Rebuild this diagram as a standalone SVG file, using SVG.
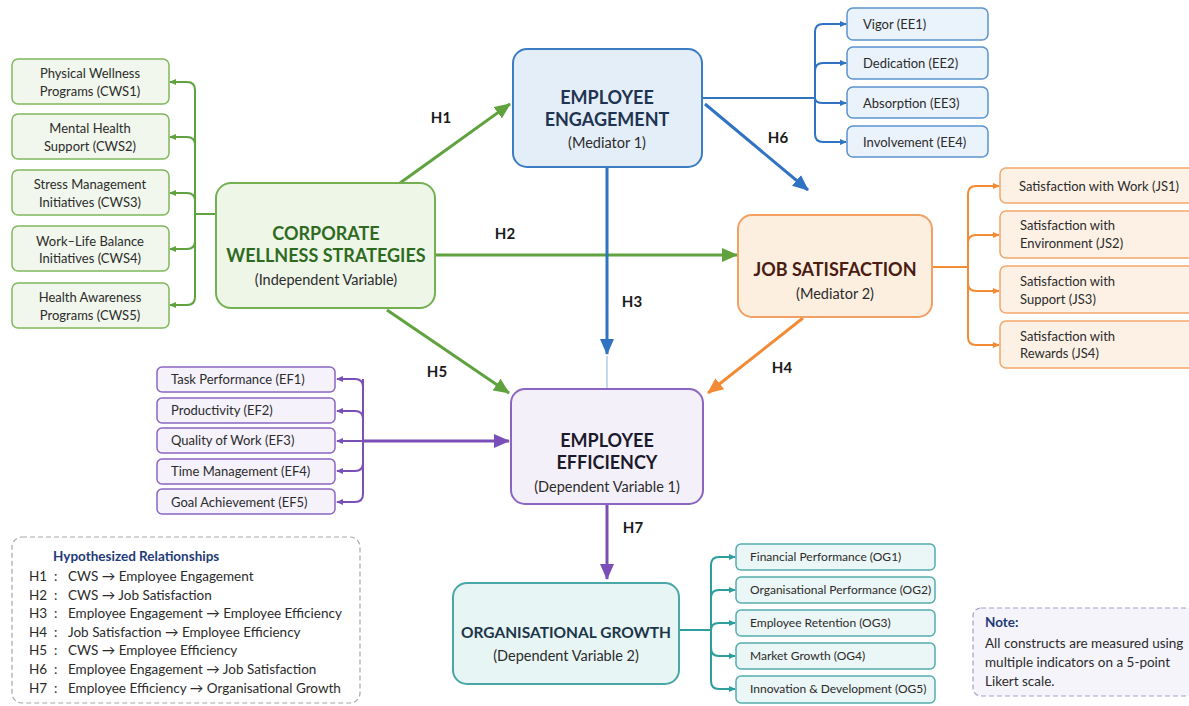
<svg xmlns="http://www.w3.org/2000/svg" width="1189" height="706" viewBox="0 0 1189 706">
  <defs>
    <style>
      text { font-family: Lato, "Open Sans", "Liberation Sans", sans-serif; }
      .ind { font-size: 13px; fill: #2b2b2b; }
      .ind-s { font-size: 12px; fill: #2b2b2b; }
      .ttl { font-size: 18px; font-weight: 700; text-anchor: middle; }
      .sub { font-size: 14.5px; text-anchor: middle; fill: #2b2b2b; }
      .hl { font-size: 15px; font-weight: 700; fill: #1a1a1a; text-anchor: middle; }
      .lg { font-size: 13.5px; fill: #2b2b2b; }
      .g-box { fill: #eef6e8; stroke: #74b052; stroke-width: 2; }
      .g-ind { fill: #f1f7ec; stroke: #7fb85e; stroke-width: 1.5; }
      .b-box { fill: #e4eef9; stroke: #3b7dc4; stroke-width: 2; }
      .b-ind { fill: #eaf2fb; stroke: #5b93d0; stroke-width: 1.5; }
      .o-box { fill: #fdefe0; stroke: #f2a064; stroke-width: 2; }
      .o-ind { fill: #fdf1e5; stroke: #f3a66c; stroke-width: 1.5; }
      .p-box { fill: #f4f0fa; stroke: #8a66c2; stroke-width: 2; }
      .p-ind { fill: #f5f2fb; stroke: #8a66c2; stroke-width: 1.5; }
      .t-box { fill: #e8f5f5; stroke: #4aa7a7; stroke-width: 2; }
      .t-ind { fill: #ebf6f6; stroke: #55adad; stroke-width: 1.5; }
      .lg-g { fill: none; stroke-width: 2; stroke-linejoin: round; }
      .lg-g.g { stroke: #5fa23e; }
      .lg-g.b { stroke: #2f73c2; }
      .lg-g.o { stroke: #f28b34; }
      .lg-g.p { stroke: #7a50b8; }
      .lg-g.t { stroke: #2e9d9d; }
      .main { fill: none; stroke-width: 3; }
    </style>
    <marker id="mg" markerUnits="userSpaceOnUse" markerWidth="16" markerHeight="14" refX="15" refY="7" orient="auto"><path d="M0,0 L16,7 L0,14 z" fill="#5fa23e"/></marker>
    <marker id="mb" markerUnits="userSpaceOnUse" markerWidth="16" markerHeight="14" refX="15" refY="7" orient="auto"><path d="M0,0 L16,7 L0,14 z" fill="#2f73c2"/></marker>
    <marker id="mo" markerUnits="userSpaceOnUse" markerWidth="16" markerHeight="14" refX="15" refY="7" orient="auto"><path d="M0,0 L16,7 L0,14 z" fill="#f28b34"/></marker>
    <marker id="mp" markerUnits="userSpaceOnUse" markerWidth="16" markerHeight="14" refX="15" refY="7" orient="auto"><path d="M0,0 L16,7 L0,14 z" fill="#7a50b8"/></marker>
    <marker id="sg" markerUnits="userSpaceOnUse" markerWidth="7" markerHeight="6" refX="6" refY="3" orient="auto"><path d="M0,0 L7,3 L0,6 z" fill="#5fa23e"/></marker>
    <marker id="sb" markerUnits="userSpaceOnUse" markerWidth="7" markerHeight="6" refX="6" refY="3" orient="auto"><path d="M0,0 L7,3 L0,6 z" fill="#2f73c2"/></marker>
    <marker id="so" markerUnits="userSpaceOnUse" markerWidth="7" markerHeight="6" refX="6" refY="3" orient="auto"><path d="M0,0 L7,3 L0,6 z" fill="#f28b34"/></marker>
    <marker id="sp" markerUnits="userSpaceOnUse" markerWidth="7" markerHeight="6" refX="6" refY="3" orient="auto"><path d="M0,0 L7,3 L0,6 z" fill="#7a50b8"/></marker>
    <marker id="st" markerUnits="userSpaceOnUse" markerWidth="7" markerHeight="6" refX="6" refY="3" orient="auto"><path d="M0,0 L7,3 L0,6 z" fill="#2e9d9d"/></marker>
  </defs>

  <rect width="1189" height="706" fill="#ffffff"/>

  <!-- connectors -->
  <g id="connectors">
    <!-- CWS indicator bus -->
    <g class="lg-g g">
      <path d="M216,214 H195"/>
      <path d="M195,214 V90 Q195,82 187,82 H170" marker-end="url(#sg)"/>
      <path d="M195,145 Q195,137 187,137 H170" marker-end="url(#sg)"/>
      <path d="M195,201 Q195,193 187,193 H170" marker-end="url(#sg)"/>
      <path d="M195,214 V297 Q195,305 187,305 H170" marker-end="url(#sg)"/>
      <path d="M195,241 Q195,249 187,249 H170" marker-end="url(#sg)"/>
    </g>
    <!-- EE indicator bus -->
    <g class="lg-g b">
      <path d="M702,98 H815"/>
      <path d="M815,98 V32 Q815,24 823,24 H846" marker-end="url(#sb)"/>
      <path d="M815,71 Q815,63 823,63 H846" marker-end="url(#sb)"/>
      <path d="M815,98 V134 Q815,142 823,142 H846" marker-end="url(#sb)"/>
      <path d="M815,98 Q815,103 823,103 H846" marker-end="url(#sb)"/>
    </g>
    <!-- JS indicator bus -->
    <g class="lg-g o">
      <path d="M932,267 H968"/>
      <path d="M968,267 V194 Q968,186 976,186 H999" marker-end="url(#so)"/>
      <path d="M968,243 Q968,235 976,235 H999" marker-end="url(#so)"/>
      <path d="M968,267 V337 Q968,345 976,345 H999" marker-end="url(#so)"/>
      <path d="M968,283 Q968,291 976,291 H999" marker-end="url(#so)"/>
    </g>
    <!-- EF indicator bus -->
    <g class="lg-g p">
      <path d="M363,387 Q363,379 355,379 H337" marker-end="url(#sp)"/>
      <path d="M363,379 V494 Q363,502 355,502 H337" marker-end="url(#sp)"/>
      <path d="M363,419 Q363,411 355,411 H337" marker-end="url(#sp)"/>
      <path d="M363,441 H337" marker-end="url(#sp)"/>
      <path d="M363,463 Q363,471 355,471 H337" marker-end="url(#sp)"/>
    </g>
    <path class="main" d="M363,441 H509" stroke="#7a50b8" stroke-width="2.5" marker-end="url(#mp)"/>
    <!-- OG indicator bus -->
    <g class="lg-g t">
      <path d="M679,630 H711"/>
      <path d="M711,630 V565 Q711,557 719,557 H735" marker-end="url(#st)"/>
      <path d="M711,598 Q711,590 719,590 H735" marker-end="url(#st)"/>
      <path d="M711,630 Q711,623 719,623 H735" marker-end="url(#st)"/>
      <path d="M711,648 Q711,656 719,656 H735" marker-end="url(#st)"/>
      <path d="M711,630 V681 Q711,689 719,689 H735" marker-end="url(#st)"/>
    </g>

    <!-- hypothesised paths -->
    <path class="main" d="M400,183 L510,104" stroke="#5fa23e" marker-end="url(#mg)"/>
    <path class="main" d="M435,255 H737" stroke="#5fa23e" marker-end="url(#mg)"/>
    <path class="main" d="M607,167 V354" stroke="#2f73c2" marker-end="url(#mb)"/>
    <path d="M607,356 V388" stroke="#9cc0ea" stroke-width="1.2" fill="none"/>
    <path class="main" d="M803,318 L708,393" stroke="#f28b34" marker-end="url(#mo)"/>
    <path class="main" d="M387,310 L509,393" stroke="#5fa23e" marker-end="url(#mg)"/>
    <path class="main" d="M705,104 L808,190" stroke="#2f73c2" marker-end="url(#mb)"/>
    <path class="main" d="M607,504 V579" stroke="#7a50b8" marker-end="url(#mp)"/>

    <text class="hl" x="441" y="123">H1</text>
    <text class="hl" x="505" y="239">H2</text>
    <text class="hl" x="632" y="307">H3</text>
    <text class="hl" x="782" y="373">H4</text>
    <text class="hl" x="437" y="377">H5</text>
    <text class="hl" x="778" y="143">H6</text>
    <text class="hl" x="633" y="533">H7</text>
  </g>

  <!-- Corporate Wellness Strategies -->
  <g id="cws">
    <rect class="g-box" x="216" y="183" width="219" height="125" rx="15"/>
    <text class="ttl" x="326" y="240" fill="#2f6b1f">CORPORATE</text>
    <text class="ttl" x="326" y="262" fill="#2f6b1f">WELLNESS STRATEGIES</text>
    <text class="sub" x="326" y="285" fill="#2f6b1f">(Independent Variable)</text>
  </g>
  <g id="cws1"><rect class="g-ind" x="12" y="59" width="157" height="45" rx="6"/>
    <text class="ind" x="90" y="78" text-anchor="middle">Physical Wellness</text>
    <text class="ind" x="90" y="96" text-anchor="middle">Programs (CWS1)</text></g>
  <g id="cws2"><rect class="g-ind" x="12" y="114" width="157" height="45" rx="6"/>
    <text class="ind" x="90" y="133" text-anchor="middle">Mental Health</text>
    <text class="ind" x="90" y="151" text-anchor="middle">Support (CWS2)</text></g>
  <g id="cws3"><rect class="g-ind" x="12" y="170" width="157" height="45" rx="6"/>
    <text class="ind" x="90" y="189" text-anchor="middle">Stress Management</text>
    <text class="ind" x="90" y="207" text-anchor="middle">Initiatives (CWS3)</text></g>
  <g id="cws4"><rect class="g-ind" x="12" y="226" width="157" height="45" rx="6"/>
    <text class="ind" x="90" y="246" text-anchor="middle">Work–Life Balance</text>
    <text class="ind" x="90" y="263" text-anchor="middle">Initiatives (CWS4)</text></g>
  <g id="cws5"><rect class="g-ind" x="12" y="283" width="157" height="45" rx="6"/>
    <text class="ind" x="90" y="302" text-anchor="middle">Health Awareness</text>
    <text class="ind" x="90" y="320" text-anchor="middle">Programs (CWS5)</text></g>

  <!-- Employee Engagement -->
  <g id="ee">
    <rect class="b-box" x="513" y="49" width="189" height="118" rx="14"/>
    <text class="ttl" x="607" y="104" fill="#1e3450">EMPLOYEE</text>
    <text class="ttl" x="607" y="126" fill="#1e3450">ENGAGEMENT</text>
    <text class="sub" x="607" y="148" fill="#1e3450">(Mediator 1)</text>
  </g>
  <g id="ee1"><rect class="b-ind" x="847" y="8" width="141" height="32" rx="6"/><text class="ind" x="863" y="29">Vigor (EE1)</text></g>
  <g id="ee2"><rect class="b-ind" x="847" y="47" width="141" height="32" rx="6"/><text class="ind" x="863" y="68">Dedication (EE2)</text></g>
  <g id="ee3"><rect class="b-ind" x="847" y="87" width="141" height="31" rx="6"/><text class="ind" x="863" y="108">Absorption (EE3)</text></g>
  <g id="ee4"><rect class="b-ind" x="847" y="126" width="141" height="31" rx="6"/><text class="ind" x="863" y="147">Involvement (EE4)</text></g>

  <!-- Job Satisfaction -->
  <g id="js">
    <rect class="o-box" x="738" y="215" width="194" height="102" rx="14"/>
    <text class="ttl" x="835" y="276" fill="#4a1c12">JOB SATISFACTION</text>
    <text class="sub" x="835" y="299">(Mediator 2)</text>
  </g>
  <g id="js1"><rect class="o-ind" x="1000" y="168" width="196" height="35" rx="6"/><text class="ind" x="1019" y="191">Satisfaction with Work (JS1)</text></g>
  <g id="js2"><rect class="o-ind" x="1000" y="211" width="196" height="47" rx="6"/>
    <text class="ind" x="1020" y="230">Satisfaction with</text><text class="ind" x="1020" y="248">Environment (JS2)</text></g>
  <g id="js3"><rect class="o-ind" x="1000" y="266" width="196" height="47" rx="6"/>
    <text class="ind" x="1020" y="286">Satisfaction with</text><text class="ind" x="1020" y="304">Support (JS3)</text></g>
  <g id="js4"><rect class="o-ind" x="1000" y="321" width="196" height="47" rx="6"/>
    <text class="ind" x="1020" y="341">Satisfaction with</text><text class="ind" x="1020" y="358">Rewards (JS4)</text></g>

  <!-- Employee Efficiency -->
  <g id="ef">
    <rect class="p-box" x="511" y="389" width="192" height="115" rx="14"/>
    <text class="ttl" x="607" y="447" fill="#1b1a2c">EMPLOYEE</text>
    <text class="ttl" x="607" y="469" fill="#1b1a2c">EFFICIENCY</text>
    <text class="sub" x="607" y="492">(Dependent Variable 1)</text>
  </g>
  <g id="ef1"><rect class="p-ind" x="157" y="367" width="178" height="25" rx="5"/><text class="ind" x="171" y="384">Task Performance (EF1)</text></g>
  <g id="ef2"><rect class="p-ind" x="157" y="398" width="178" height="25" rx="5"/><text class="ind" x="171" y="415">Productivity (EF2)</text></g>
  <g id="ef3"><rect class="p-ind" x="157" y="428" width="178" height="25" rx="5"/><text class="ind" x="171" y="445">Quality of Work (EF3)</text></g>
  <g id="ef4"><rect class="p-ind" x="157" y="459" width="178" height="25" rx="5"/><text class="ind" x="171" y="476">Time Management (EF4)</text></g>
  <g id="ef5"><rect class="p-ind" x="157" y="489" width="178" height="25" rx="5"/><text class="ind" x="171" y="507">Goal Achievement (EF5)</text></g>

  <!-- Organisational Growth -->
  <g id="og">
    <rect class="t-box" x="453" y="583" width="226" height="101" rx="14"/>
    <text class="ttl" x="566" y="638" fill="#1b3648" style="font-size:15.5px">ORGANISATIONAL GROWTH</text>
    <text class="sub" x="566" y="661">(Dependent Variable 2)</text>
  </g>
  <g id="og1"><rect class="t-ind" x="736" y="544" width="199" height="26" rx="5"/><text class="ind-s" x="750" y="561">Financial Performance (OG1)</text></g>
  <g id="og2"><rect class="t-ind" x="736" y="577" width="199" height="26" rx="5"/><text class="ind-s" x="750" y="594">Organisational Performance (OG2)</text></g>
  <g id="og3"><rect class="t-ind" x="736" y="610" width="199" height="26" rx="5"/><text class="ind-s" x="750" y="627">Employee Retention (OG3)</text></g>
  <g id="og4"><rect class="t-ind" x="736" y="643" width="199" height="26" rx="5"/><text class="ind-s" x="750" y="660">Market Growth (OG4)</text></g>
  <g id="og5"><rect class="t-ind" x="736" y="676" width="199" height="27" rx="5"/><text class="ind-s" x="750" y="693">Innovation &amp; Development (OG5)</text></g>

  <!-- legend of hypotheses -->
  <g id="legend">
    <rect x="12" y="537" width="348" height="166" rx="10" fill="#ffffff" stroke="#a8a8a8" stroke-width="1.2" stroke-dasharray="5,3"/>
    <text x="53" y="561" font-size="13.5" font-weight="700" fill="#1f3a78">Hypothesized Relationships</text>
    <g class="lg">
      <text x="29" y="581">H1</text><text x="54" y="581">:</text><text x="68" y="581">CWS → Employee Engagement</text>
      <text x="29" y="600">H2</text><text x="54" y="600">:</text><text x="68" y="600">CWS → Job Satisfaction</text>
      <text x="29" y="618">H3</text><text x="54" y="618">:</text><text x="68" y="618">Employee Engagement → Employee Efficiency</text>
      <text x="29" y="637">H4</text><text x="54" y="637">:</text><text x="68" y="637">Job Satisfaction → Employee Efficiency</text>
      <text x="29" y="655">H5</text><text x="54" y="655">:</text><text x="68" y="655">CWS → Employee Efficiency</text>
      <text x="29" y="674">H6</text><text x="54" y="674">:</text><text x="68" y="674">Employee Engagement → Job Satisfaction</text>
      <text x="29" y="693">H7</text><text x="54" y="693">:</text><text x="68" y="693">Employee Efficiency → Organisational Growth</text>
    </g>
  </g>

  <!-- note -->
  <g id="note">
    <rect x="973" y="608" width="222" height="88" rx="8" fill="#f6f4fb" stroke="#a99cc8" stroke-width="1.2" stroke-dasharray="5,3"/>
    <text x="985" y="627" font-size="13.5" font-weight="700" fill="#1f3a78">Note:</text>
    <text class="lg" x="985" y="648">All constructs are measured using</text>
    <text class="lg" x="985" y="667">multiple indicators on a 5-point</text>
    <text class="lg" x="985" y="686">Likert scale.</text>
  </g>
</svg>
